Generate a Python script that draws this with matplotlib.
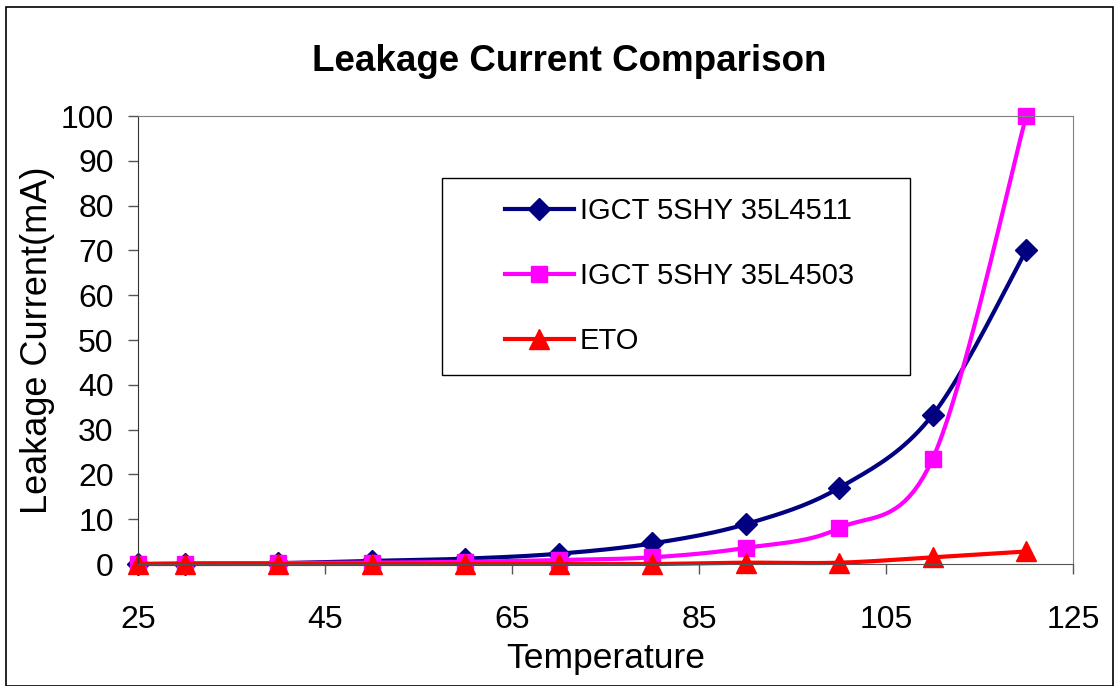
import numpy as np
import matplotlib
matplotlib.use("Agg")
import matplotlib.pyplot as plt
from matplotlib.patches import Rectangle

plt.rcParams['font.family']=['Liberation Sans','DejaVu Sans']

temp=[25,30,40,50,60,70,80,90,100,110,120]
igct_4511=[0,0.1,0.2,0.7,1.2,2.3,4.6,8.9,17,33.3,70]
igct_4503=[0,0.1,0.2,0.3,0.5,0.9,1.5,3.6,8,23.5,100]
eto=[0,0,0,0,0,0,0,0.3,0.3,1.5,2.8]

names=["IGCT 5SHY 35L4511","IGCT 5SHY 35L4503","ETO"]
colors=["#000080","#FF00FF","#FF0000"]
markers=["D","s","^"]
msizes=[11,12,14]


def smooth(x,y,n=20):
    # excel style smoothed line (bezier, catmull-rom control points)
    p=np.column_stack([x,y]).astype(float)
    pts=[]
    idx=[]
    for i in range(len(p)-1):
        p0=p[i-1] if i>0 else p[i]
        p3=p[i+2] if i+2<len(p) else p[i+1]
        p1=p[i]
        p2=p[i+1]
        c1=p1+(p2-p0)/6
        c2=p2-(p3-p1)/6
        t=np.linspace(0,1,n,endpoint=False)[:,None]
        seg=(1-t)**3*p1+3*(1-t)**2*t*c1+3*(1-t)*t**2*c2+t**3*p2
        idx.append(len(pts))
        pts.extend(seg)
    idx.append(len(pts))
    pts.append(p[-1])
    pts=np.array(pts)
    return pts[:,0],pts[:,1],idx


fig=plt.figure(figsize=(11.2,6.86),dpi=100)
ax=fig.add_axes([0.1232,0.1778,0.8348,0.6531])

for ys,name,c,m,ms in zip([igct_4511,igct_4503,eto],names,colors,markers,msizes):
    sx,sy,idx=smooth(temp,ys)
    ax.plot(sx,sy,color=c,lw=3,marker=m,markersize=ms,markevery=idx,
            markeredgecolor=c,label=name,clip_on=False)

ax.set_xlim(25,125)
ax.set_ylim(0,100)
ax.set_xticks([25,45,65,85,105,125])
ax.set_yticks(range(0,101,10))
ax.tick_params(labelsize=23,length=7.5,width=1,color="#555555",direction="out")
ax.tick_params(axis="x",pad=22)
ax.tick_params(axis="y",pad=10)
for s in ["top","right"]:
    ax.spines[s].set_color("#808080")
ax.spines["left"].set_color("#333333")
ax.spines["bottom"].set_color("#555555")

ax.set_xlabel("Temperature",fontsize=25.5,va="center")
ax.xaxis.set_label_coords(0.5,-(658-564)/448)
ax.set_ylabel("Leakage Current(mA)",fontsize=26,va="center")
ax.yaxis.set_label_coords(-(138-38)/935,0.5)
fig.text(0.508,0.911,"Leakage Current Comparison",fontsize=26.5,fontweight="bold",
         ha="center",va="center")

# legend frame drawn separately, entries placed inside
ax.add_patch(Rectangle((0.325,0.422),0.501,0.44,transform=ax.transAxes,
                       fill=False,edgecolor="black",lw=1,zorder=5))
leg=ax.legend(loc="center left",bbox_to_anchor=(0.3925,0.643),fontsize=21,
              frameon=False,labelspacing=1.27,handlelength=2.36,borderpad=0,
              borderaxespad=0,handletextpad=0.2)

fig.patches.append(Rectangle((6/1120,0),1107/1120,1-7/686,transform=fig.transFigure,
                             fill=False,edgecolor="black",lw=1.2))

fig.savefig("out.png",dpi=100)
